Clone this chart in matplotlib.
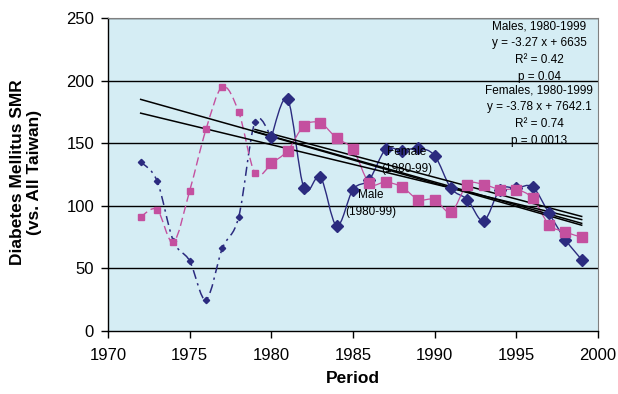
import numpy as np
import matplotlib
matplotlib.use("Agg")
import matplotlib.pyplot as plt
from matplotlib.path import Path
from matplotlib.patches import PathPatch

plt.rcParams['font.family'] = ['Liberation Sans', 'DejaVu Sans']

# SMR values
early_years = [1972, 1973, 1974, 1975, 1976, 1977, 1978, 1979]
male_early = [135, 120, 72, 56, 25, 66, 91, 167]
female_early = [91, 97, 71, 112, 161, 195, 175, 126]

late_years = [1980, 1981, 1982, 1983, 1984, 1985, 1986, 1987, 1988, 1989,
              1990, 1991, 1992, 1993, 1994, 1995, 1996, 1997, 1998, 1999]
male_late = [155, 185, 114, 123, 84, 113, 121, 145, 144, 146,
             140, 114, 105, 88, 113, 114, 115, 94, 73, 57]
female_late = [134, 144, 164, 166, 154, 145, 118, 119, 115, 105,
               105, 95, 117, 117, 113, 113, 106, 85, 79, 75]

# regression lines (end points)
trend_x = [[1972, 1999], [1972, 1999], [1979, 1999], [1979, 1999]]
trend_y = [[185, 86], [174, 89], [161, 91.5], [159, 84.5]]

male_fit = "Males, 1980-1999\ny = -3.27 x + 6635\nR² = 0.42\np = 0.04"
female_fit = "Females, 1980-1999\ny = -3.78 x + 7642.1\nR² = 0.74\np = 0.0013"

navy = '#2B2B7F'
pink = '#C4509F'


def smooth_path(xs, ys):
    # Excel-like smoothed line as cubic Bezier segments
    p = np.column_stack([xs, ys]).astype(float)
    n = len(p)
    verts = [p[0]]
    codes = [Path.MOVETO]
    for i in range(n - 1):
        prev = p[i - 1] if i > 0 else p[i]
        nxt = p[i + 2] if i + 2 < n else p[i + 1]
        c1 = p[i] + (p[i + 1] - prev) / 6
        c2 = p[i + 1] - (nxt - p[i]) / 6
        verts += [c1, c2, p[i + 1]]
        codes += [Path.CURVE4] * 3
    return Path(verts, codes)


fig = plt.figure(figsize=(6.18, 3.94), dpi=100)
ax = fig.add_axes([108 / 618, 63 / 394, 490 / 618, 313 / 394])
ax.set_facecolor('#D5EDF4')

for y in [50, 100, 150, 200, 250]:
    ax.axhline(y, color='black', lw=1, zorder=1)

# early (1972-79) series, dashed, joined to 1980
ax.add_patch(PathPatch(smooth_path(early_years + late_years[:1], male_early + male_late[:1]),
                       fill=False, edgecolor=navy, lw=1.1, linestyle=(0, (6, 3, 1.5, 3)), zorder=3))
ax.add_patch(PathPatch(smooth_path(early_years + late_years[:1], female_early + female_late[:1]),
                       fill=False, edgecolor=pink, lw=1.0, linestyle=(0, (6, 3)), zorder=3))
ax.plot(early_years, male_early, ls='none', marker='D', ms=3.2, color=navy, zorder=5)
ax.plot(early_years, female_early, ls='none', marker='s', ms=4.3, color=pink, zorder=5)

# late (1980-99) series, solid
ax.add_patch(PathPatch(smooth_path(late_years, male_late), fill=False,
                       edgecolor=navy, lw=1.0, zorder=3))
ax.add_patch(PathPatch(smooth_path(late_years, female_late), fill=False,
                       edgecolor=pink, lw=0.9, zorder=3))
ax.plot(late_years, male_late, ls='none', marker='D', ms=6.5, color=navy, zorder=5)
ax.plot(late_years, female_late, ls='none', marker='s', ms=7.2, color=pink, zorder=5)

for tx, ty in zip(trend_x, trend_y):
    ax.plot(tx, ty, color='black', lw=1.1, zorder=4)

ax.text(1996.4, 248, male_fit, ha='center', va='top', fontsize=8.5,
        linespacing=1.55, zorder=6)
ax.text(1996.4, 197, female_fit, ha='center', va='top', fontsize=8.5,
        linespacing=1.55, zorder=6)
ax.text(1988.3, 136, "Female\n(1980-99)", ha='center', va='center', fontsize=8.5,
        linespacing=1.5, zorder=6)
ax.text(1986.1, 102, "Male\n(1980-99)", ha='center', va='center', fontsize=8.5,
        linespacing=1.5, zorder=6)

ax.set_xlim(1970, 2000)
ax.set_ylim(0, 250)
ax.set_xticks(range(1970, 2001, 5))
ax.set_yticks(range(0, 251, 50))
ax.tick_params(axis='both', direction='out', length=5, width=1, labelsize=12)
ax.tick_params(axis='x', pad=7)
ax.tick_params(axis='y', pad=5)

for s in ['top', 'right']:
    ax.spines[s].set_color('#808080')
ax.spines['left'].set_linewidth(1)
ax.spines['bottom'].set_linewidth(1)

ax.set_xlabel('Period', fontsize=12.5, fontweight='bold', labelpad=6)
fig.text(26 / 618, 1 - 172 / 394, 'Diabetes Mellitus SMR\n(vs. All Taiwan)',
         rotation=90, ha='center', va='center', fontsize=12.5, fontweight='bold',
         multialignment='center', linespacing=1.1)

fig.savefig('out.png', dpi=100)
